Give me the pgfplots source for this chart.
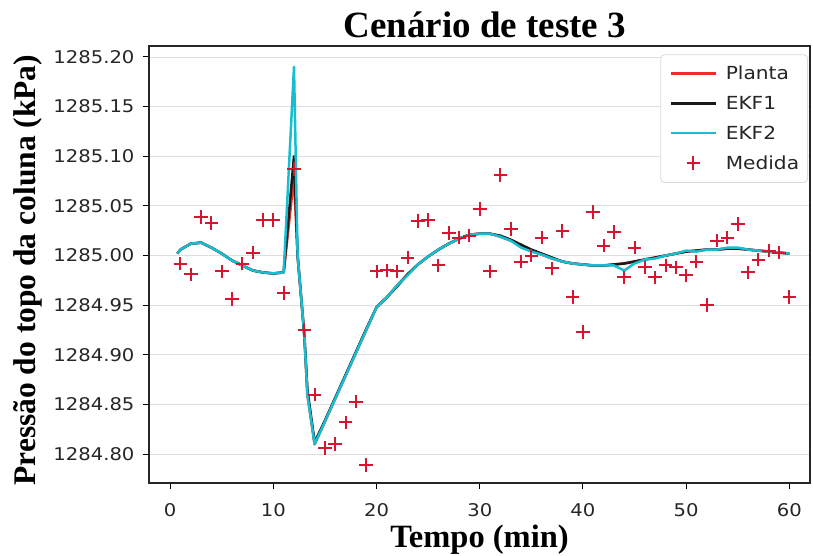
\documentclass[border=0pt]{standalone}
\usepackage{pgfplots}
\usepackage{pgfplotstable}
\pgfplotsset{compat=1.18}
\usepackage{fontspec}
\setmainfont{Liberation Serif}
\newfontfamily\tickfont[FakeStretch=1.12]{DejaVu Sans}
\definecolor{plantared}{RGB}{232,48,40}
\definecolor{ekfonecol}{RGB}{25,25,25}
\definecolor{ekftwocol}{RGB}{23,190,207}
\definecolor{medcol}{RGB}{214,22,48}
% pressures stored as deviation from 1285 kPa (p - 1285), for numeric precision
\pgfplotstableread{
t planta ekf1 ekf2
0.7 0.002 0.002 0.002
1 0.006 0.006 0.006
2 0.012 0.012 0.012
3 0.013 0.013 0.013
4 0.008 0.008 0.008
5 0.002 0.002 0.002
6 -0.005 -0.005 -0.005
7 -0.010 -0.010 -0.010
8 -0.015 -0.015 -0.015
9 -0.017 -0.017 -0.017
10 -0.018 -0.018 -0.018
11 -0.017 -0.017 -0.017
12 0.080 0.100 0.190
12.35 0.000 0.000 0.000
13 -0.080 -0.080 -0.080
13.3 -0.140 -0.135 -0.140
14 -0.190 -0.188 -0.190
15 -0.167 -0.166 -0.167
16 -0.144 -0.143 -0.144
17 -0.121 -0.120 -0.121
18 -0.098 -0.097 -0.098
19 -0.075 -0.074 -0.075
20 -0.052 -0.052 -0.052
21 -0.042 -0.042 -0.042
22 -0.030 -0.031 -0.030
23 -0.019 -0.019 -0.020
24 -0.009 -0.009 -0.009
25 -0.001 -0.001 -0.001
26 0.006 0.006 0.006
27 0.012 0.012 0.012
28 0.017 0.017 0.017
29 0.021 0.021 0.021
30 0.022 0.022 0.022
31 0.022 0.022 0.022
32 0.019 0.020 0.019
33 0.015 0.016 0.015
34 0.010 0.011 0.008
35 0.005 0.006 0.004
36 0.001 0.002 0.001
37 -0.003 -0.002 -0.003
38 -0.006 -0.006 -0.006
39 -0.008 -0.008 -0.008
40 -0.009 -0.009 -0.009
41 -0.010 -0.010 -0.010
42 -0.010 -0.010 -0.010
43 -0.009 -0.009 -0.010
44 -0.008 -0.008 -0.015
45 -0.006 -0.006 -0.008
46 -0.004 -0.004 -0.004
47 -0.002 -0.002 -0.003
48 0.000 0.000 0.000
49 0.002 0.002 0.002
50 0.004 0.004 0.005
51 0.005 0.005 0.004
52 0.006 0.006 0.006
53 0.006 0.006 0.006
54 0.007 0.007 0.008
55 0.007 0.007 0.008
56 0.006 0.006 0.006
57 0.005 0.005 0.005
58 0.004 0.004 0.004
59 0.003 0.003 0.003
60 0.002 0.002 0.002
}\lines
\pgfplotstableread{
t p
1 -0.008
2 -0.019
3 0.039
4 0.033
5 -0.016
6 -0.044
7 -0.008
8 0.003
9 0.036
10 0.036
11 -0.038
12 0.087
13 -0.075
14 -0.140
15 -0.194
16 -0.190
17 -0.168
18 -0.147
19 -0.211
20 -0.016
21 -0.015
22 -0.016
23 -0.002
24 0.035
25 0.036
26 -0.010
27 0.023
28 0.018
29 0.020
30 0.047
31 -0.016
32 0.081
33 0.027
34 -0.006
35 0.000
36 0.018
37 -0.013
38 0.025
39 -0.042
40 -0.077
41 0.044
42 0.010
43 0.024
44 -0.022
45 0.008
46 -0.012
47 -0.022
48 -0.010
49 -0.012
50 -0.020
51 -0.006
52 -0.050
53 0.015
54 0.018
55 0.032
56 -0.017
57 -0.004
58 0.005
59 0.003
60 -0.042
}\medida
\begin{document}
\begin{tikzpicture}
\path[use as bounding box] (-149pt,-73pt) rectangle (664pt,483pt);
\begin{axis}[
  at={(0pt,0pt)}, anchor=south west,
  width=661pt, height=437pt, scale only axis,
  xmin=-2.05, xmax=62.0, ymin=-0.229, ymax=0.211,
  xtick={0,10,20,30,40,50,60},
  xticklabels={0,10,20,30,40,50,60},
  ytick={-0.20,-0.15,-0.10,-0.05,0,0.05,0.10,0.15,0.20},
  yticklabels={1284.80,1284.85,1284.90,1284.95,1285.00,1285.05,1285.10,1285.15,1285.20},
  tick align=outside, tick pos=left,
  major tick length=6pt,
  tick style={black, line width=1pt},
  axis line style={black!85, line width=1.2pt},
  ymajorgrids, grid style={gray!25, line width=0.8pt},
  ticklabel style={font=\tickfont\fontsize{17.5}{20}\selectfont, text=black!85},
  yticklabel style={xshift=-5pt},
  xticklabel style={yshift=-11pt},
  title={Cenário de teste 3},
  title style={at={(axis description cs:0.508,1.006)}, anchor=base, font=\fontsize{37}{40}\selectfont\bfseries},
  xlabel={Tempo (min)},
  xlabel style={at={(axis description cs:0.5,-0.148)}, anchor=base, font=\fontsize{32.5}{36}\selectfont\bfseries},
  ylabel={Pressão do topo da coluna (kPa)},
  ylabel style={at={(axis description cs:-0.171,0.487)}, anchor=base, rotate=0, font=\fontsize{31.5}{36}\selectfont\bfseries},
  legend cell align=left,
  legend style={at={(rel axis cs:0.997,0.981)}, anchor=north east,
    draw=gray!30, line width=0.8pt, rounded corners=4pt, fill=white,
    font=\tickfont\fontsize{18}{20}\selectfont, text=black!85,
    inner xsep=5pt, inner ysep=8pt, row sep=8pt,
    nodes={inner sep=3.5pt},
    /tikz/every odd column/.append style={column sep=5pt}},
  legend image code/.code={\path (-4pt,-0.5pt); \draw[mark repeat=2,mark phase=2,#1] plot coordinates {(0pt,0.4pt) (22.5pt,0.4pt) (45pt,0.4pt)};},
]
\addplot[color=plantared, line width=2.6pt, line join=round] table[x=t, y=planta] {\lines};
\addlegendentry{Planta}
\addplot[color=ekfonecol, line width=2.5pt, line join=round] table[x=t, y=ekf1] {\lines};
\addlegendentry{EKF1}
\addplot[color=ekftwocol, line width=2.5pt, line join=round] table[x=t, y=ekf2] {\lines};
\addlegendentry{EKF2}
\addplot[color=medcol, only marks, mark=+, mark size=6.8pt, line width=2pt, mark options={draw=medcol, line width=2pt}] table[x=t, y=p] {\medida};
\addlegendentry{Medida}
\end{axis}
\end{tikzpicture}
\end{document}
